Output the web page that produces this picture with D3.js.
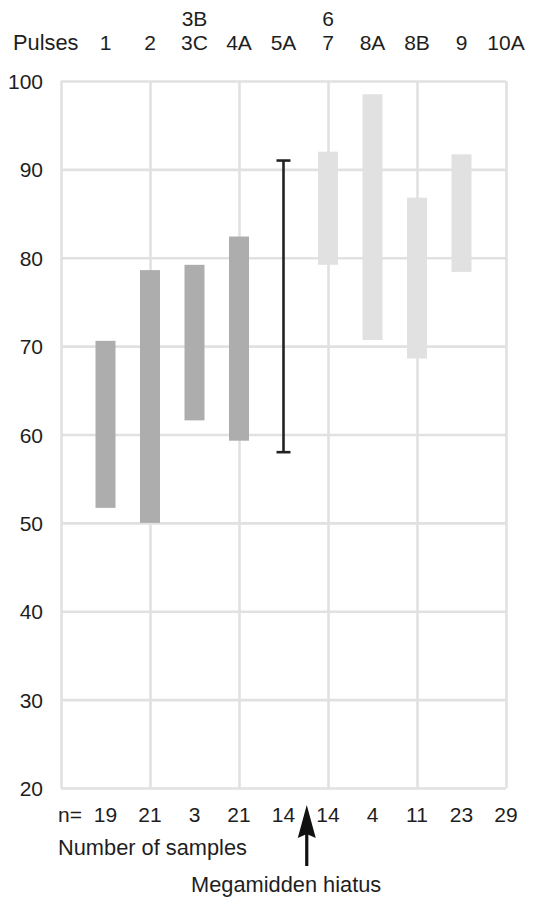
<!DOCTYPE html>
<html>
<head>
<meta charset="utf-8">
<script src="https://cdn.jsdelivr.net/npm/d3@7"></script>
<style>
  html, body { margin: 0; padding: 0; background: #fff; }
  svg { display: block; font-family: "Liberation Sans", Arial, sans-serif; }
</style>
</head>
<body>
<svg id="chart" width="533" height="898"></svg>
<script>
// ---- data ----
const pulses      = ["1", "2", "3C", "4A", "5A", "7", "8A", "8B", "9", "10A"];
const pulsesUpper = ["",  "",  "3B", "",   "",   "6", "",   "",   "",  ""];
const sampleCount = [19, 21, 3, 21, 14, 14, 4, 11, 23, 29];
const rangeLow    = [51.7, 50.0, 61.6, 59.3, 58.0, 79.2, 70.7, 68.6, 78.4, null];
const rangeHigh   = [70.6, 78.6, 79.2, 82.4, 91.0, 92.0, 98.5, 86.8, 91.7, null];
const period      = ["pre", "pre", "pre", "pre", "hiatus", "post", "post", "post", "post", "post"];
const yTicks      = [20, 30, 40, 50, 60, 70, 80, 90, 100];
const hiatusBetween = ["5A", "7"];

// ---- layout ----
const svg = d3.select("#chart");
const pLeft = 61, pRight = 506, pTop = 81, pBottom = 788;
const gridColor = "#e1e1e1";
const textColor = "#1e1e1e";
const fontSize = 21;
const wordSize = 21.8;

const x = d3.scalePoint().domain(["Pulses"].concat(pulses)).range([pLeft, pRight]);
const y = d3.scaleLinear().domain([20, 100]).range([pBottom, pTop]);

// horizontal grid via axis
const yGrid = svg.append("g")
  .attr("transform", `translate(${pLeft},0)`)
  .call(d3.axisLeft(y).tickValues(yTicks).tickSize(-(pRight - pLeft)).tickFormat(""));
yGrid.select(".domain").remove();
yGrid.selectAll(".tick line").attr("stroke", gridColor).attr("stroke-width", 2.6);

// vertical grid via axis (every other category incl. left edge)
const vTicks = x.domain().filter((d, i) => i % 2 === 0);
const xGrid = svg.append("g")
  .attr("transform", `translate(0,${pBottom})`)
  .call(d3.axisBottom(x).tickValues(vTicks).tickSize(-(pBottom - pTop)).tickFormat(""));
xGrid.select(".domain").remove();
xGrid.selectAll(".tick line").attr("stroke", gridColor).attr("stroke-width", 2.6);

// y labels
svg.append("g").selectAll("text").data(yTicks).join("text")
  .attr("x", pLeft - 18).attr("y", d => y(d) + 8)
  .attr("text-anchor", "end").attr("font-size", fontSize).attr("fill", textColor)
  .text(d => d);

// bars
const rows = pulses.map((p, i) => ({ p, lo: rangeLow[i], hi: rangeHigh[i], period: period[i] }));
const barW = 20;
svg.append("g").selectAll("rect")
  .data(rows.filter(r => r.lo != null && r.period !== "hiatus"))
  .join("rect")
  .attr("x", d => x(d.p) - barW / 2)
  .attr("width", barW)
  .attr("y", d => y(d.hi))
  .attr("height", d => y(d.lo) - y(d.hi))
  .attr("fill", d => d.period === "pre" ? "#adadad" : "#e1e1e1");

// error bar (hiatus)
const eb = svg.append("g").attr("stroke", "#222").attr("stroke-width", 2.6);
rows.filter(r => r.period === "hiatus").forEach(d => {
  const cx = x(d.p);
  eb.append("line").attr("x1", cx).attr("x2", cx).attr("y1", y(d.hi)).attr("y2", y(d.lo));
  eb.append("line").attr("x1", cx - 7).attr("x2", cx + 7).attr("y1", y(d.hi)).attr("y2", y(d.hi));
  eb.append("line").attr("x1", cx - 7).attr("x2", cx + 7).attr("y1", y(d.lo)).attr("y2", y(d.lo));
});

// top labels
svg.append("text").attr("x", 13).attr("y", 50)
  .attr("font-size", wordSize).attr("fill", textColor).text("Pulses");
svg.append("g").selectAll("text").data(pulses).join("text")
  .attr("x", d => x(d)).attr("y", 50)
  .attr("text-anchor", "middle").attr("font-size", fontSize).attr("fill", textColor)
  .text(d => d);
svg.append("g").selectAll("text").data(pulses.map((p, i) => ({ p, u: pulsesUpper[i] })).filter(d => d.u))
  .join("text")
  .attr("x", d => x(d.p)).attr("y", 26)
  .attr("text-anchor", "middle").attr("font-size", fontSize).attr("fill", textColor)
  .text(d => d.u);

// bottom labels
svg.append("text").attr("x", 58).attr("y", 822)
  .attr("font-size", fontSize).attr("fill", textColor).text("n=");
svg.append("g").selectAll("text").data(pulses.map((p, i) => ({ p, n: sampleCount[i] })))
  .join("text")
  .attr("x", d => x(d.p)).attr("y", 822)
  .attr("text-anchor", "middle").attr("font-size", fontSize).attr("fill", textColor)
  .text(d => d.n);
svg.append("text").attr("x", 58).attr("y", 855)
  .attr("font-size", wordSize).attr("fill", textColor).text("Number of samples");

// hiatus arrow
const ax = (x(hiatusBetween[0]) + x(hiatusBetween[1])) / 2 + 1;
svg.append("line").attr("x1", ax).attr("x2", ax).attr("y1", 830).attr("y2", 866)
  .attr("stroke", "#111").attr("stroke-width", 3.2);
svg.append("path")
  .attr("d", `M${ax},805 L${ax + 9},838 L${ax},834 L${ax - 9},838 Z`)
  .attr("fill", "#111");
svg.append("text").attr("x", 191).attr("y", 892)
  .attr("font-size", wordSize).attr("fill", textColor).text("Megamidden hiatus");
</script>
</body>
</html>
